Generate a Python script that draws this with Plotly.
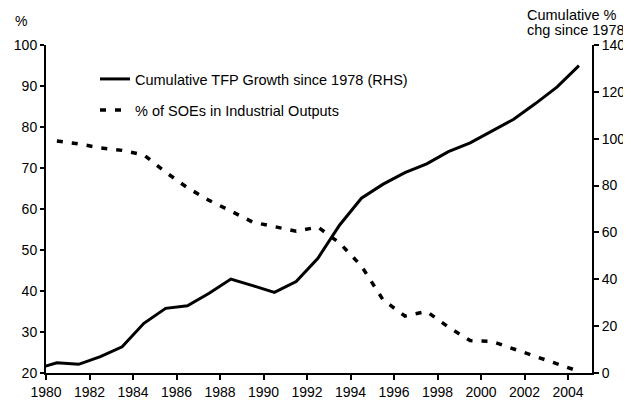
import plotly.graph_objects as go

years = list(range(1979, 2005))
tfp_cum = [1.6, 4.4, 3.7, 7.0, 11.2, 21.2, 27.6, 28.7, 34.0, 40.1, 37.3, 34.4, 39.0,
           49.0, 63.2, 74.6, 80.6, 85.5, 89.3, 94.5, 98.2, 103.4, 108.3, 115.0, 122.1, 131.2]
soe_share = [None, 76.6, 75.9, 74.9, 74.3, 73.2, 69.0, 65.2, 62.1, 59.5, 56.8, 55.7, 54.6,
             55.6, 51.7, 46.1, 37.8, 33.9, 35.0, 31.2, 27.9, 27.7, 25.9, 23.9, 22.2, 20.4]
tick_years = list(range(1980, 2005, 2))

# each year's value is drawn mid-way between year boundaries
xpos = [y + 0.5 for y in years]

FONT = "Liberation Sans, Arial, sans-serif"
FS = 14

fig = go.Figure()
fig.add_trace(go.Scatter(
    x=xpos, y=tfp_cum, yaxis="y2", mode="lines",
    name="Cumulative TFP Growth since 1978 (RHS)",
    line=dict(color="black", width=3), legend="legend",
))
fig.add_trace(go.Scatter(
    x=xpos, y=soe_share, mode="lines",
    name="% of SOEs in Industrial Outputs",
    line=dict(color="black", width=3.5, dash="6px,9px"), legend="legend2",
))

# page has an 8px body margin, so the figure starts at (8, 8) in the window
OFF = 8
W, H = 631 - OFF, 407 - OFF
S_L, S_R, S_T, S_B = 46, 592, 45, 373   # plot area in window pixels
L, R, T, B = S_L - OFF, W - (S_R - OFF), S_T - OFF, H - (S_B - OFF)
pw, ph = S_R - S_L, S_B - S_T

def px(x):
    return (x - S_L) / pw

def py(y):
    return (S_B - y) / ph

legend_common = dict(
    xanchor="left", yanchor="middle", bgcolor="rgba(0,0,0,0)",
    font=dict(family=FONT, size=14.5, color="black"), borderwidth=0,
    itemwidth=30,
)

tick_font = dict(family=FONT, size=FS, color="black")
ann_font = dict(family=FONT, size=FS, color="black")
title_font = dict(family=FONT, size=14.5, color="black")

fig.update_layout(
    width=W, height=H,
    margin=dict(l=L, r=R, t=T, b=B, autoexpand=False),
    paper_bgcolor="white", plot_bgcolor="white",
    font=dict(family=FONT, size=FS, color="black"),
    showlegend=True,
    legend=dict(x=px(95), y=py(79), **legend_common),
    legend2=dict(x=px(95), y=py(110), **legend_common),
    xaxis=dict(
        range=[1980, 2005.1], tickmode="array", tickvals=tick_years,
        ticktext=[str(t) for t in tick_years],
        showgrid=False, zeroline=False, showline=True, linecolor="black", linewidth=2,
        ticks="outside", ticklen=5, tickcolor="black", tickwidth=1.5,
        tickfont=tick_font, automargin=False,
    ),
    yaxis=dict(
        range=[20, 100], dtick=10, showgrid=False, zeroline=False,
        showline=True, linecolor="black", linewidth=2,
        ticks="outside", ticklen=4, tickcolor="black", tickwidth=1.5,
        tickfont=tick_font, automargin=False,
    ),
    yaxis2=dict(
        range=[0, 140], dtick=20, overlaying="y", side="right",
        showgrid=False, zeroline=False, showline=True, linecolor="black", linewidth=2,
        ticks="outside", ticklen=5, tickcolor="black", tickwidth=1.5,
        tickfont=tick_font, automargin=False,
    ),
    annotations=[
        dict(text="%", xref="paper", yref="paper", x=px(13), y=py(21),
             xanchor="left", yanchor="middle", showarrow=False, font=ann_font),
        dict(text="Cumulative %", xref="paper", yref="paper",
             x=px(525), y=py(15), xanchor="left", yanchor="middle",
             showarrow=False, font=title_font),
        dict(text="chg since 1978", xref="paper", yref="paper",
             x=px(525), y=py(30), xanchor="left", yanchor="middle",
             showarrow=False, font=title_font),
    ],
)

fig.write_html("out.html")
